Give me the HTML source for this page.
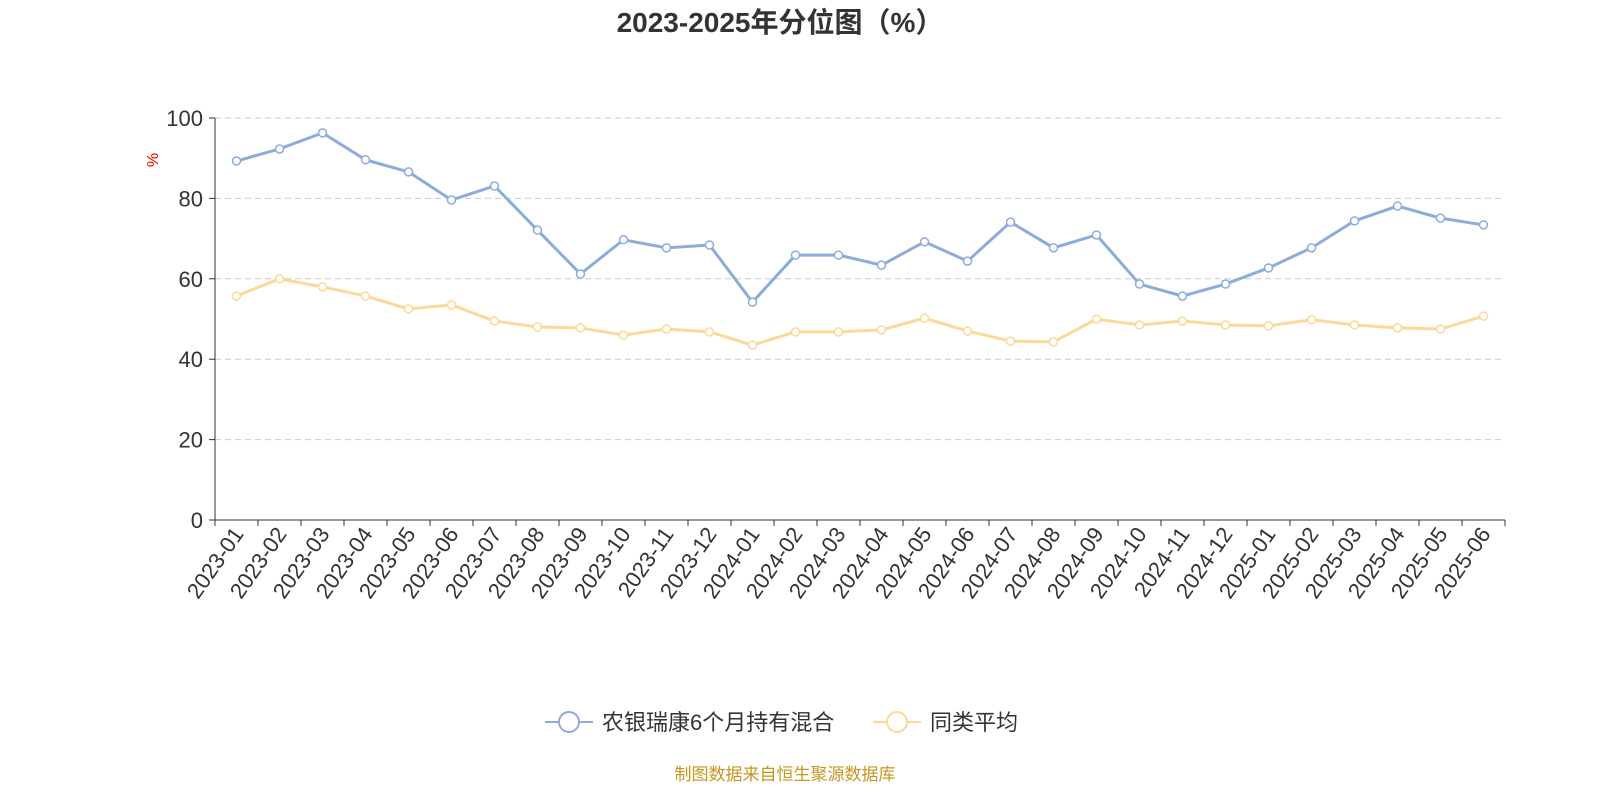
<!DOCTYPE html>
<html><head><meta charset="utf-8"><style>
body{margin:0;background:#fff;font-family:"Liberation Sans","Noto Sans CJK SC",sans-serif;}
svg text{font-family:"Liberation Sans","Noto Sans CJK SC",sans-serif;}
</style></head><body>
<svg id="c" width="1600" height="800" xmlns="http://www.w3.org/2000/svg">
<text x="780" y="32" text-anchor="middle" font-size="28" font-weight="bold" fill="#333">2023-2025年分位图（%）</text>
<text x="158" y="160" font-size="16" fill="#e00" transform="rotate(-90 158 160)" text-anchor="middle">%</text>
<g id="grid"></g><g id="axes"></g><g id="series"></g>
<g>
<g><line x1="545" y1="722" x2="593" y2="722" stroke="#8eacdb" stroke-width="2"/><circle cx="569" cy="722" r="10" fill="#fff" stroke="#8eacdb" stroke-width="2"/><text x="602" y="730" font-size="22" fill="#333">农银瑞康6个月持有混合</text></g>
<g><line x1="873" y1="722" x2="921" y2="722" stroke="#fdd898" stroke-width="2"/><circle cx="897" cy="722" r="10" fill="#fff" stroke="#fdd898" stroke-width="2"/><text x="930" y="730" font-size="22" fill="#333">同类平均</text></g>
</g>
<text x="785" y="780" text-anchor="middle" font-size="17" fill="#c8961e">制图数据来自恒生聚源数据库</text>
</svg>
<script>
const categories=["2023-01","2023-02","2023-03","2023-04","2023-05","2023-06","2023-07","2023-08","2023-09","2023-10","2023-11","2023-12","2024-01","2024-02","2024-03","2024-04","2024-05","2024-06","2024-07","2024-08","2024-09","2024-10","2024-11","2024-12","2025-01","2025-02","2025-03","2025-04","2025-05","2025-06"];
const fundValues=[89.3,92.3,96.3,89.6,86.6,79.6,83.1,72.1,61.2,69.7,67.7,68.4,54.2,65.9,65.9,63.4,69.2,64.4,74.1,67.7,70.9,58.7,55.7,58.7,62.7,67.7,74.4,78.1,75.1,73.4];
const avgValues=[55.7,60.0,58.0,55.7,52.5,53.5,49.5,48.0,47.8,46.0,47.5,46.8,43.5,46.8,46.8,47.3,50.2,47.0,44.5,44.3,50.0,48.5,49.5,48.5,48.3,49.8,48.5,47.8,47.5,50.7];
const yTicks=[0,20,40,60,80,100];
const NS="http://www.w3.org/2000/svg";
const L=215,R=1505,T=118,B=520;
const bw=(R-L)/categories.length;
const xs=i=>L+bw*(i+0.5);
const ys=v=>B-(v/100)*(B-T);
function mk(tag,attrs,parent){const e=document.createElementNS(NS,tag);for(const k in attrs)e.setAttribute(k,attrs[k]);parent.appendChild(e);return e;}
const grid=document.getElementById('grid'),axes=document.getElementById('axes'),ser=document.getElementById('series');
yTicks.forEach(t=>{
  if(t>0){const g=mk('line',{x1:L,x2:R,y1:ys(t),y2:ys(t),stroke:'#ccc','stroke-dasharray':'6,4'},grid);
  
  }
  mk('line',{x1:L-6,x2:L,y1:ys(t),y2:ys(t),stroke:'#333'},axes);
  const tx=mk('text',{x:L-12,y:ys(t)+8,'text-anchor':'end','font-size':22,fill:'#333'},axes);tx.textContent=t;
  
  
});
mk('line',{x1:L,x2:L,y1:T,y2:B,stroke:'#333'},axes);
mk('line',{x1:L,x2:R,y1:B,y2:B,stroke:'#333'},axes);
for(let i=0;i<=categories.length;i++)mk('line',{x1:L+bw*i,x2:L+bw*i,y1:B,y2:B+6,stroke:'#333'},axes);
categories.forEach((c,i)=>{
  const x=xs(i)+8,y=B+14;
  const tx=mk('text',{x:x,y:y,'text-anchor':'end','font-size':22,fill:'#333',transform:`rotate(-55 ${x} ${y})`},axes);tx.textContent=c;
  
  
});
function draw(vals,color,name){
  const p=mk('polyline',{points:vals.map((v,i)=>xs(i)+','+ys(v)).join(' '),fill:'none',stroke:color,'stroke-width':3},ser);
  
  
  vals.forEach((v,i)=>{const c=mk('circle',{cx:xs(i),cy:ys(v),r:4,fill:'#fff',stroke:color,'stroke-width':1.5},ser);
  
  });
}
draw(fundValues,'#8eacdb','fund');
draw(avgValues,'#fdd898','average');
</script>
</body></html>
